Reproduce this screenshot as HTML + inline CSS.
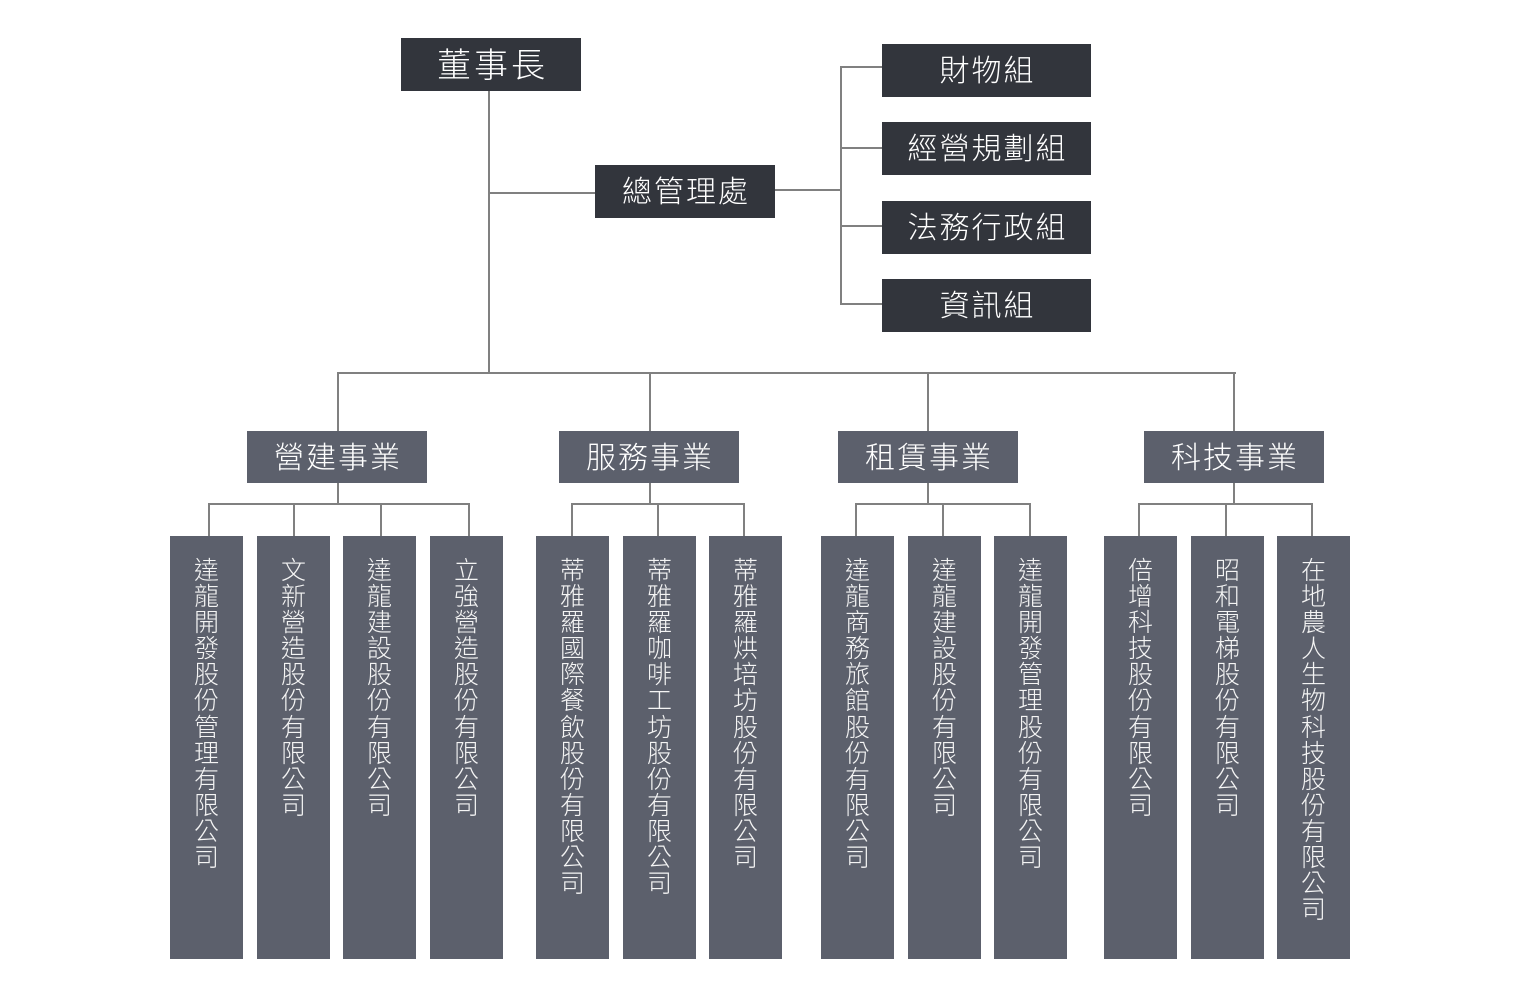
<!DOCTYPE html>
<html>
<head>
<meta charset="utf-8">
<style>
  html, body { margin:0; padding:0; background:#ffffff; }
  body { width:1540px; height:1000px; position:relative; overflow:hidden;
         font-family:"Liberation Sans","Noto Sans CJK TC","Noto Sans CJK SC",sans-serif; font-weight:300; }
  .b { position:absolute; color:#ffffff; display:flex; align-items:center; justify-content:center; white-space:nowrap;
       box-sizing:border-box; padding-bottom:5px; }
  .d { background:#32353c; }
  .m { background:#5c606c; }
  .l { position:absolute; background:#808080; }
  .leaf { position:absolute; top:536px; width:73px; height:423px; background:#5c606c; color:#f4f4f4;
          font-size:25px; }
  .leaf span { display:block; text-align:center; height:26.1px; line-height:26.1px; }
  .leaf .t { position:absolute; left:0; right:0; top:22px; }
</style>
</head>
<body>

<!-- connector lines -->
<div class="l" style="left:488px;top:91px;width:2px;height:283px;"></div>
<div class="l" style="left:489px;top:192px;width:106px;height:2px;"></div>
<div class="l" style="left:775px;top:189px;width:67px;height:2px;"></div>
<div class="l" style="left:840px;top:66px;width:2px;height:239px;"></div>
<div class="l" style="left:840px;top:66px;width:42px;height:2px;"></div>
<div class="l" style="left:840px;top:147px;width:42px;height:2px;"></div>
<div class="l" style="left:840px;top:225px;width:42px;height:2px;"></div>
<div class="l" style="left:840px;top:303px;width:42px;height:2px;"></div>

<div class="l" style="left:337px;top:372px;width:899px;height:2px;"></div>
<div class="l" style="left:337px;top:372px;width:2px;height:59px;"></div>
<div class="l" style="left:649px;top:372px;width:2px;height:59px;"></div>
<div class="l" style="left:927px;top:372px;width:2px;height:59px;"></div>
<div class="l" style="left:1233px;top:372px;width:2px;height:59px;"></div>

<!-- group 1 -->
<div class="l" style="left:337px;top:483px;width:2px;height:21px;"></div>
<div class="l" style="left:208px;top:503px;width:262px;height:2px;"></div>
<div class="l" style="left:208px;top:503px;width:2px;height:33px;"></div>
<div class="l" style="left:293px;top:503px;width:2px;height:33px;"></div>
<div class="l" style="left:380px;top:503px;width:2px;height:33px;"></div>
<div class="l" style="left:468px;top:503px;width:2px;height:33px;"></div>
<!-- group 2 -->
<div class="l" style="left:649px;top:483px;width:2px;height:21px;"></div>
<div class="l" style="left:571px;top:503px;width:174px;height:2px;"></div>
<div class="l" style="left:571px;top:503px;width:2px;height:33px;"></div>
<div class="l" style="left:657px;top:503px;width:2px;height:33px;"></div>
<div class="l" style="left:743px;top:503px;width:2px;height:33px;"></div>
<!-- group 3 -->
<div class="l" style="left:927px;top:483px;width:2px;height:21px;"></div>
<div class="l" style="left:855px;top:503px;width:176px;height:2px;"></div>
<div class="l" style="left:855px;top:503px;width:2px;height:33px;"></div>
<div class="l" style="left:942px;top:503px;width:2px;height:33px;"></div>
<div class="l" style="left:1029px;top:503px;width:2px;height:33px;"></div>
<!-- group 4 -->
<div class="l" style="left:1233px;top:483px;width:2px;height:21px;"></div>
<div class="l" style="left:1138px;top:503px;width:175px;height:2px;"></div>
<div class="l" style="left:1138px;top:503px;width:2px;height:33px;"></div>
<div class="l" style="left:1225px;top:503px;width:2px;height:33px;"></div>
<div class="l" style="left:1311px;top:503px;width:2px;height:33px;"></div>

<!-- top boxes -->
<div class="b d" style="left:401px;top:38px;width:180px;height:53px;font-size:34px;letter-spacing:3px;padding-left:3px;">董事長</div>
<div class="b d" style="left:595px;top:165px;width:180px;height:53px;font-size:30px;letter-spacing:2px;padding-left:2px;">總管理處</div>

<div class="b d" style="left:882px;top:44px;width:209px;height:53px;font-size:30px;letter-spacing:2px;padding-left:2px;">財物組</div>
<div class="b d" style="left:882px;top:122px;width:209px;height:53px;font-size:30px;letter-spacing:2px;padding-left:2px;">經營規劃組</div>
<div class="b d" style="left:882px;top:201px;width:209px;height:53px;font-size:30px;letter-spacing:2px;padding-left:2px;">法務行政組</div>
<div class="b d" style="left:882px;top:279px;width:209px;height:53px;font-size:30px;letter-spacing:2px;padding-left:2px;">資訊組</div>

<!-- business boxes -->
<div class="b m" style="left:247px;top:431px;width:180px;height:52px;font-size:30px;letter-spacing:2px;padding-left:2px;">營建事業</div>
<div class="b m" style="left:559px;top:431px;width:180px;height:52px;font-size:30px;letter-spacing:2px;padding-left:2px;">服務事業</div>
<div class="b m" style="left:838px;top:431px;width:180px;height:52px;font-size:30px;letter-spacing:2px;padding-left:2px;">租賃事業</div>
<div class="b m" style="left:1144px;top:431px;width:180px;height:52px;font-size:30px;letter-spacing:2px;padding-left:2px;">科技事業</div>

<!-- leaf boxes -->
<div class="leaf" style="left:170px;"><div class="t"><span>達</span><span>龍</span><span>開</span><span>發</span><span>股</span><span>份</span><span>管</span><span>理</span><span>有</span><span>限</span><span>公</span><span>司</span></div></div>
<div class="leaf" style="left:257px;"><div class="t"><span>文</span><span>新</span><span>營</span><span>造</span><span>股</span><span>份</span><span>有</span><span>限</span><span>公</span><span>司</span></div></div>
<div class="leaf" style="left:343px;"><div class="t"><span>達</span><span>龍</span><span>建</span><span>設</span><span>股</span><span>份</span><span>有</span><span>限</span><span>公</span><span>司</span></div></div>
<div class="leaf" style="left:430px;"><div class="t"><span>立</span><span>強</span><span>營</span><span>造</span><span>股</span><span>份</span><span>有</span><span>限</span><span>公</span><span>司</span></div></div>

<div class="leaf" style="left:536px;"><div class="t"><span>蒂</span><span>雅</span><span>羅</span><span>國</span><span>際</span><span>餐</span><span>飲</span><span>股</span><span>份</span><span>有</span><span>限</span><span>公</span><span>司</span></div></div>
<div class="leaf" style="left:623px;"><div class="t"><span>蒂</span><span>雅</span><span>羅</span><span>咖</span><span>啡</span><span>工</span><span>坊</span><span>股</span><span>份</span><span>有</span><span>限</span><span>公</span><span>司</span></div></div>
<div class="leaf" style="left:709px;"><div class="t"><span>蒂</span><span>雅</span><span>羅</span><span>烘</span><span>培</span><span>坊</span><span>股</span><span>份</span><span>有</span><span>限</span><span>公</span><span>司</span></div></div>

<div class="leaf" style="left:821px;"><div class="t"><span>達</span><span>龍</span><span>商</span><span>務</span><span>旅</span><span>館</span><span>股</span><span>份</span><span>有</span><span>限</span><span>公</span><span>司</span></div></div>
<div class="leaf" style="left:908px;"><div class="t"><span>達</span><span>龍</span><span>建</span><span>設</span><span>股</span><span>份</span><span>有</span><span>限</span><span>公</span><span>司</span></div></div>
<div class="leaf" style="left:994px;"><div class="t"><span>達</span><span>龍</span><span>開</span><span>發</span><span>管</span><span>理</span><span>股</span><span>份</span><span>有</span><span>限</span><span>公</span><span>司</span></div></div>

<div class="leaf" style="left:1104px;"><div class="t"><span>倍</span><span>增</span><span>科</span><span>技</span><span>股</span><span>份</span><span>有</span><span>限</span><span>公</span><span>司</span></div></div>
<div class="leaf" style="left:1191px;"><div class="t"><span>昭</span><span>和</span><span>電</span><span>梯</span><span>股</span><span>份</span><span>有</span><span>限</span><span>公</span><span>司</span></div></div>
<div class="leaf" style="left:1277px;"><div class="t"><span>在</span><span>地</span><span>農</span><span>人</span><span>生</span><span>物</span><span>科</span><span>技</span><span>股</span><span>份</span><span>有</span><span>限</span><span>公</span><span>司</span></div></div>

</body>
</html>
